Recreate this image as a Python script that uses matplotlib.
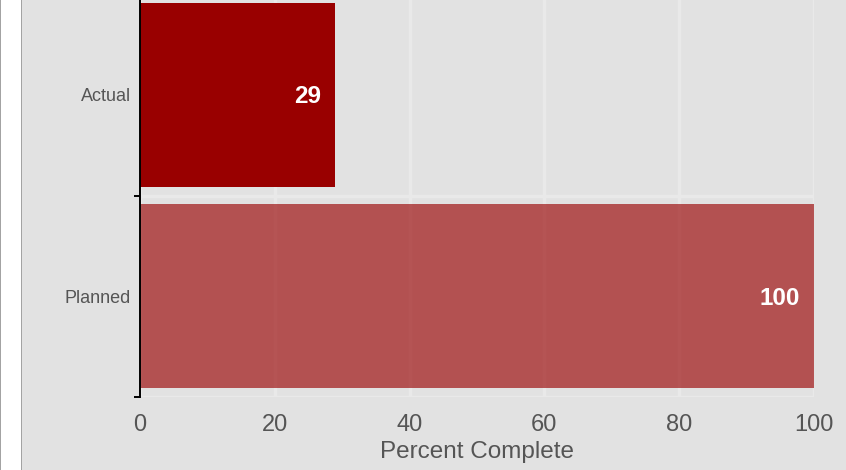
import matplotlib.pyplot as plt
from matplotlib.patches import Rectangle

categories = ["Planned", "Actual"]
values = [100, 29]
bar_colors = ["#990000", "#990000"]
bar_alphas = [0.64, 1.0]
x_ticks = [0, 20, 40, 60, 80, 100]

plt.rcParams['font.family'] = ['Liberation Sans', 'DejaVu Sans']

bg = "#e2e2e2"
W, H = 846, 470
fig = plt.figure(figsize=(W / 100, H / 100), dpi=100)
fig.patch.set_facecolor("white")

# grey panel with a border on the left, plus the thin line at the far edge
fig.patches.append(Rectangle((22 / W, 0), 1, 1, transform=fig.transFigure,
                             facecolor=bg, edgecolor="none", zorder=-10))
fig.patches.append(Rectangle((20.5 / W, 0), 1.6 / W, 1, transform=fig.transFigure,
                             facecolor="#a3a3a3", edgecolor="none", zorder=-10))
fig.patches.append(Rectangle((0, 0), 1.2 / W, 1, transform=fig.transFigure,
                             facecolor="#a3a3a3", edgecolor="none", zorder=-10))

# axes top runs past the top of the picture (the original is cropped there)
left, right = 140 / W, 814 / W
bottom, top = (H - 397) / H, (H + 6) / H
ax = fig.add_axes([left, bottom, right - left, top - bottom])
ax.set_facecolor(bg)

ypos = list(range(len(categories)))
for y, v, c, a in zip(ypos, values, bar_colors, bar_alphas):
    ax.barh(y, v, height=0.915, color=c, alpha=a, zorder=2)
    ax.annotate(str(v), xy=(v, y), xytext=(-14, -2), textcoords="offset pixels",
                ha="right", va="center", color="white", fontsize=17.5,
                fontweight="bold", zorder=3)

ax.set_xlim(0, 100)
ax.set_ylim(-0.5, len(categories) - 0.5)

ax.set_xticks(x_ticks)
ax.set_yticks(ypos)
ax.set_yticklabels(categories)
ax.set_yticks([-0.5, 0.5, 1.5], minor=True)

ax.grid(True, axis="x", which="major", color="#e9e9e9", linewidth=2.4, zorder=1)
ax.grid(True, axis="y", which="minor", color="#e9e9e9", linewidth=2.4, zorder=1)
ax.set_axisbelow(True)

for s in ["top", "right", "bottom"]:
    ax.spines[s].set_visible(False)
ax.spines["left"].set_color("black")
ax.spines["left"].set_linewidth(1.4)
ax.spines["left"].set_zorder(4)

ax.tick_params(axis="x", length=0, pad=12, labelsize=17, labelcolor="#555555")
ax.tick_params(axis="y", which="major", length=0, pad=6.5, labelsize=13,
               labelcolor="#555555")
ax.tick_params(axis="y", which="minor", length=4, width=1.4, color="black")

ax.set_xlabel("Percent Complete", fontsize=17.5, color="#555555", labelpad=4)

fig.savefig("out.png", dpi=100, facecolor=fig.get_facecolor())
